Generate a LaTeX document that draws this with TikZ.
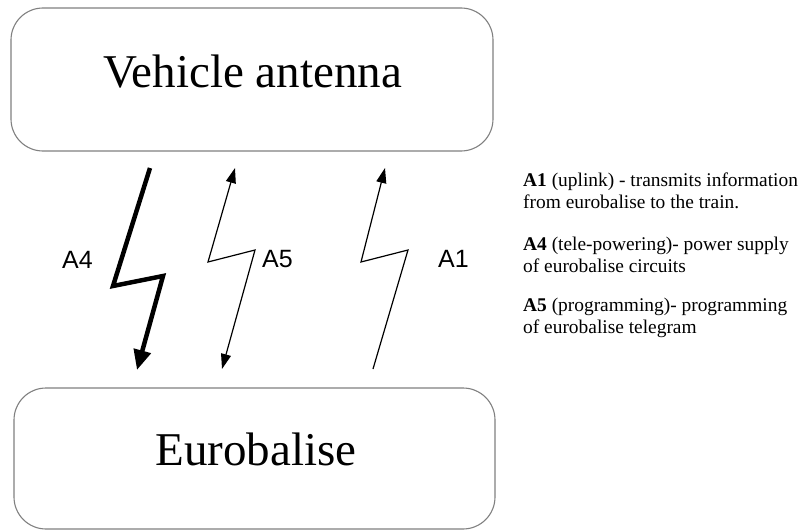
\documentclass[tikz,border=0pt]{standalone}
\usepackage{fontspec}
\setmainfont{Liberation Serif}
\newfontfamily\labelfont{Liberation Sans}
\usetikzlibrary{arrows.meta}
\definecolor{boxgray}{HTML}{808080}
\tikzset{
  blockbox/.style={draw=boxgray, line width=1.1pt, rounded corners=32pt, inner sep=0pt},
  thinbolt/.style={line width=1.2pt, line join=miter, draw=black},
  thickbolt/.style={line width=4.5pt, line join=miter, draw=black},
  alabel/.style={font=\labelfont\fontsize{25}{30}\selectfont, anchor=base west, inner sep=0pt},
  desc/.style={font=\fontsize{19.4}{22}\selectfont, anchor=base west, inner sep=0pt},
  bigtext/.style={font=\fontsize{47}{54}\selectfont, anchor=base, inner sep=0pt}
}
\begin{document}
\begin{tikzpicture}[x=1pt,y=-1pt]
\useasboundingbox (0,0) rectangle (801,530);
% boxes
\node[blockbox, minimum width=482pt, minimum height=143pt] (veh) at (252,79.5) {};
\node[bigtext] (vehtxt) at (252.5,87) {Vehicle antenna};
\node[blockbox, minimum width=481pt, minimum height=141pt] (euro) at (254.5,458.5) {};
\node[bigtext] (eurotxt) at (256,465) {Eurobalise};
% A4 bolt (down, thick)
\coordinate (a4s) at (150,168);
\coordinate (a4l) at (113,286);
\coordinate (a4r) at (163,276);
\coordinate (a4e) at (137,370);
\draw[thickbolt, -{Triangle[length=20pt,width=17pt]}] (a4s) -- (a4l) -- (a4r) -- (a4e);
% A5 bolt (both ways)
\coordinate (a5s) at (235,168);
\coordinate (a5l) at (208,262);
\coordinate (a5r) at (255,250);
\coordinate (a5e) at (222,369);
\draw[thinbolt, {Triangle[length=15pt,width=10pt]}-{Triangle[length=15pt,width=10pt]}] (a5s) -- (a5l) -- (a5r) -- (a5e);
% A1 bolt (up)
\coordinate (a1s) at (385,168);
\coordinate (a1l) at (361,262);
\coordinate (a1r) at (408,250);
\coordinate (a1e) at (373,369);
\draw[thinbolt, {Triangle[length=15pt,width=10pt]}-] (a1s) -- (a1l) -- (a1r) -- (a1e);
% labels
\node[alabel] (la4) at (62,268) {A4};
\node[alabel] (la5) at (262,267) {A5};
\node[alabel] (la1) at (438,267) {A1};
% descriptions
\node[desc] (d1a) at (523,186) {\textbf{A1} (uplink) - transmits information};
\node[desc] (d1b) at (523,208) {from eurobalise to the train.};
\node[desc] (d4a) at (523,250) {\textbf{A4} (tele-powering)- power supply};
\node[desc] (d4b) at (523,272) {of eurobalise circuits};
\node[desc] (d5a) at (523,311) {\textbf{A5} (programming)- programming};
\node[desc] (d5b) at (523,333) {of eurobalise telegram};
\end{tikzpicture}
\end{document}
